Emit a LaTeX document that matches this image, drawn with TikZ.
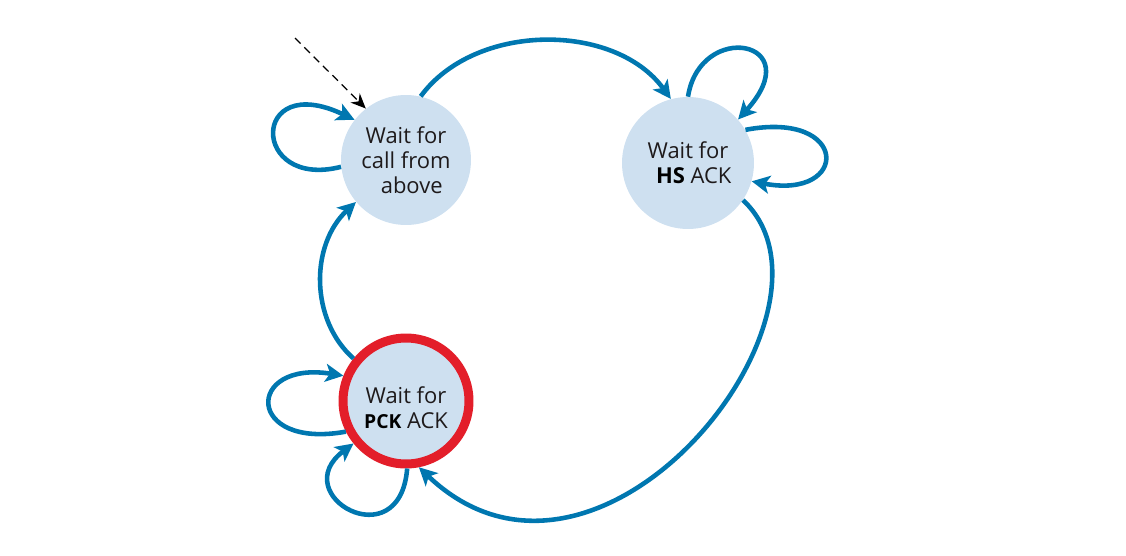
\documentclass[tikz,border=0pt]{standalone}
\usepackage{fontspec}
\setmainfont{Open Sans}
\usetikzlibrary{arrows.meta}
\definecolor{loopblue}{RGB}{0,119,176}
\definecolor{statefill}{RGB}{206,224,240}
\definecolor{alertred}{RGB}{227,30,42}
\definecolor{ink}{RGB}{30,26,27}
\begin{document}
\begin{tikzpicture}[x=0.02cm,y=-0.02cm,
  state/.style={circle,fill=statefill,inner sep=0pt,align=center,text=ink,font=\fontsize{12.5}{14.3}\selectfont},
  trans/.style={draw=loopblue,line width=2.6pt,-{Stealth[length=3.6mm,width=3.6mm,inset=0.9mm]}}]
\useasboundingbox (0,0) rectangle (1126,555);
\node[state,minimum size=2.6cm] (call) at (406,160) {Wait for\\call from\\\ \ above};
\node[state,minimum size=2.64cm] (hs) at (688,163) {Wait for\\\ \ \textbf{\color{black}HS} ACK};
\node[state,draw=alertred,line width=0.18cm,minimum size=2.52cm,
  label={[align=center,text=ink,yshift=-0.14cm,font=\fontsize{12.5}{14.3}\selectfont]center:Wait for\\{\fontsize{11}{14}\selectfont\textbf{\color{black}PCK}}\ ACK}] (pck) at (406,401) {};
\coordinate (start) at (295,38);
\draw[dash pattern=on 4.5pt off 3pt,line width=0.7pt,-{Stealth[length=3mm,width=2.6mm]}] (start) -- (call.128);
\draw[trans] (call.186) .. controls (250,190) and (250,70) .. (call.142);
\draw[trans] (call.77) .. controls (475,22) and (615,22) .. (hs.105);
\draw[trans] (hs.90) .. controls (700,20) and (810,40) .. (hs.41);
\draw[trans] (hs.30) .. controls (850,110) and (850,200) .. (hs.-16);
\draw[trans] (hs.-34) .. controls (860,310) and (600,640) .. (pck.281);
\draw[trans] (pck.141) .. controls (310,320) and (310,245) .. (call.220);
\draw[trans] (pck.207) .. controls (245,450) and (245,360) .. (pck.158);
\draw[trans] (pck.271) .. controls (400,560) and (285,495) .. (pck.219);
\end{tikzpicture}
\end{document}
